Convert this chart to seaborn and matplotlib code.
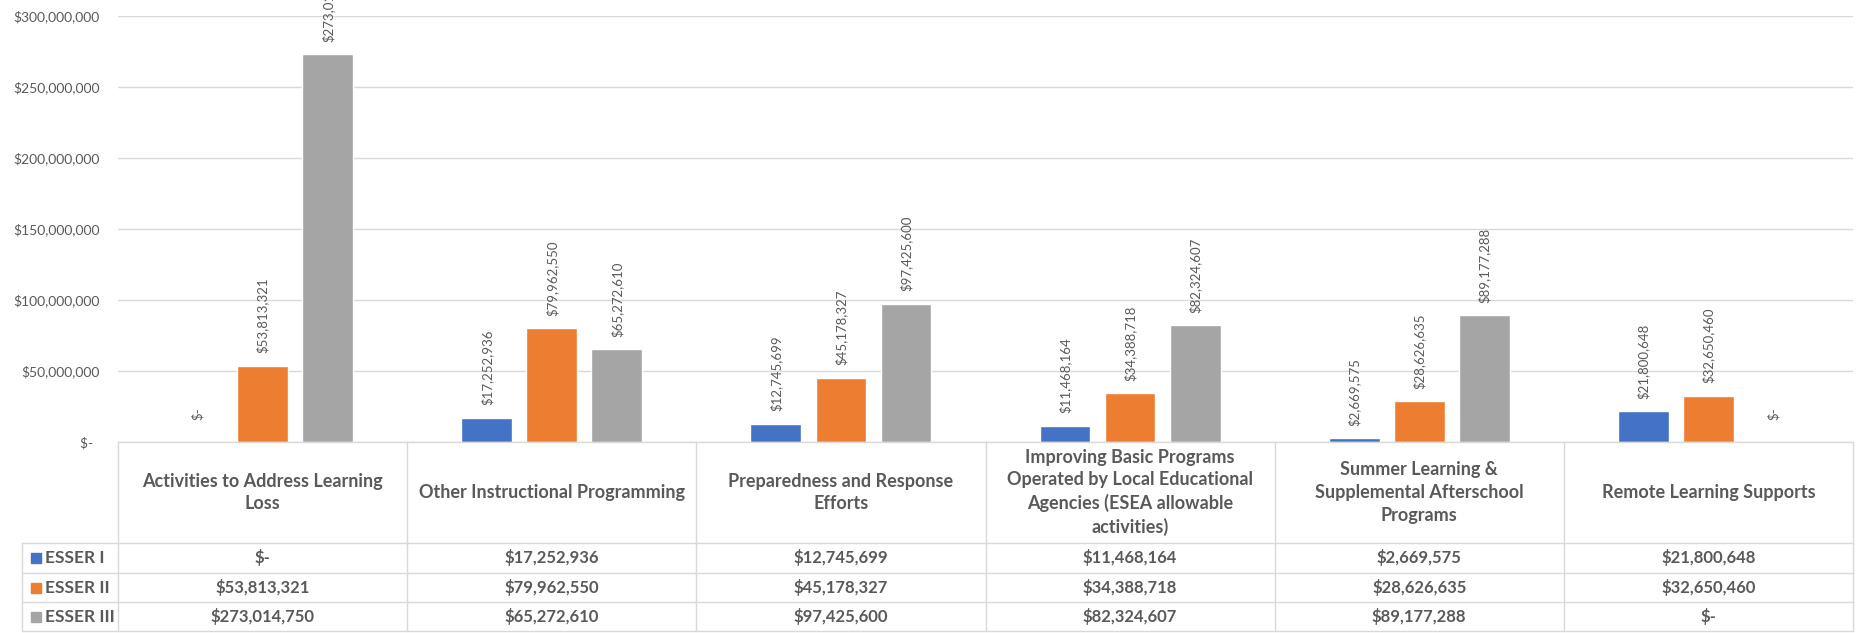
import matplotlib
matplotlib.use("Agg")
import matplotlib.pyplot as plt
import matplotlib.transforms as mtransforms
import pandas as pd
import seaborn as sns

categories = [
    "Activities to Address Learning\nLoss",
    "Other Instructional Programming",
    "Preparedness and Response\nEfforts",
    "Improving Basic Programs\nOperated by Local Educational\nAgencies (ESEA allowable\nactivities)",
    "Summer Learning &\nSupplemental Afterschool\nPrograms",
    "Remote Learning Supports",
]
series = ["ESSER I", "ESSER II", "ESSER III"]
esser_1 = [0, 17252936, 12745699, 11468164, 2669575, 21800648]
esser_2 = [53813321, 79962550, 45178327, 34388718, 28626635, 32650460]
esser_3 = [273014750, 65272610, 97425600, 82324607, 89177288, 0]
y_ticks = [0, 50000000, 100000000, 150000000, 200000000, 250000000, 300000000]
colors = ["#4472C4", "#ED7D31", "#A5A5A5"]

TEXT = "#595959"
LINE = "#D9D9D9"


def money(value, pad=""):
    """Excel accounting style: zero shows as a dash (with its padding)."""
    if value == 0:
        return "$-" + pad
    return f"${value:,.0f}"


def main():
    sns.set_style("white")
    plt.rcParams["font.family"] = ["Lato", "DejaVu Sans"]

    values = [esser_1, esser_2, esser_3]
    df = pd.DataFrame({
        "category": [c for _ in series for c in categories],
        "series": [s for s in series for _ in categories],
        "amount": [v for vals in values for v in vals],
    })

    fig = plt.figure(figsize=(18.6, 6.33), dpi=100)
    ax = fig.add_axes([118 / 1860, 1 - 442 / 633,
                       (1853 - 118) / 1860, (442 - 16) / 633])

    sns.barplot(data=df, x="category", y="amount", hue="series",
                order=categories, hue_order=series, palette=colors,
                saturation=1, width=0.675, gap=0.22, legend=False, ax=ax)

    # value labels; the "$-" ones sit a little higher, as in Excel
    for cont, vals in zip(ax.containers, values):
        ax.bar_label(cont, labels=[money(v) if v else "" for v in vals],
                     rotation=90, padding=9, fontsize=9.5, color=TEXT)
        ax.bar_label(cont, labels=["" if v else money(v) for v in vals],
                     rotation=90, padding=16, fontsize=9.5, color=TEXT)

    ax.set_xlim(-0.5, len(categories) - 0.5)
    ax.set_ylim(0, 300000000)
    ax.set_yticks(y_ticks, [money(v, "  ") for v in y_ticks])
    ax.tick_params(axis="y", length=0, pad=13, labelsize=10, labelcolor=TEXT)
    ax.set_xticks([])
    ax.set_xlabel("")
    ax.set_ylabel("")
    ax.yaxis.grid(True, color=LINE, lw=1)
    ax.set_axisbelow(True)
    sns.despine(ax=ax, left=True, bottom=True)

    # data table under the plot, columns follow the category axis
    trans = mtransforms.blended_transform_factory(ax.transData, ax.transAxes)
    rows = [0, -0.237, -0.3075, -0.3756, -0.4437]
    legend_left = -0.832
    n = len(categories)
    kw = dict(color=LINE, lw=1, transform=trans, clip_on=False)

    ax.plot([-0.5, n - 0.5], [rows[0], rows[0]], **kw)
    for r in rows[1:]:
        ax.plot([legend_left, n - 0.5], [r, r], **kw)
    for i in range(n + 1):
        ax.plot([i - 0.5, i - 0.5], [rows[0], rows[-1]], **kw)
    ax.plot([legend_left, legend_left], [rows[1], rows[-1]], **kw)

    for i, cat in enumerate(categories):
        ax.text(i, (rows[0] + rows[1]) / 2, cat, transform=trans,
                ha="center", va="center", fontsize=13, fontweight="bold",
                color=TEXT, linespacing=1.4)

    for k, (name, vals) in enumerate(zip(series, values)):
        mid = (rows[k + 1] + rows[k + 2]) / 2
        ax.plot([-0.785], [mid], marker="s", ms=7, color=colors[k],
                transform=trans, clip_on=False, ls="none")
        ax.text(-0.752, mid, name, transform=trans, ha="left", va="center",
                fontsize=12.5, fontweight="bold", color=TEXT)
        for i, v in enumerate(vals):
            ax.text(i, mid, money(v), transform=trans, ha="center",
                    va="center", fontsize=12, fontweight="bold", color=TEXT)

    ax.set_xlim(-0.5, n - 0.5)
    ax.set_ylim(0, 300000000)

    fig.savefig("out.png", dpi=100)


if __name__ == "__main__":
    main()
